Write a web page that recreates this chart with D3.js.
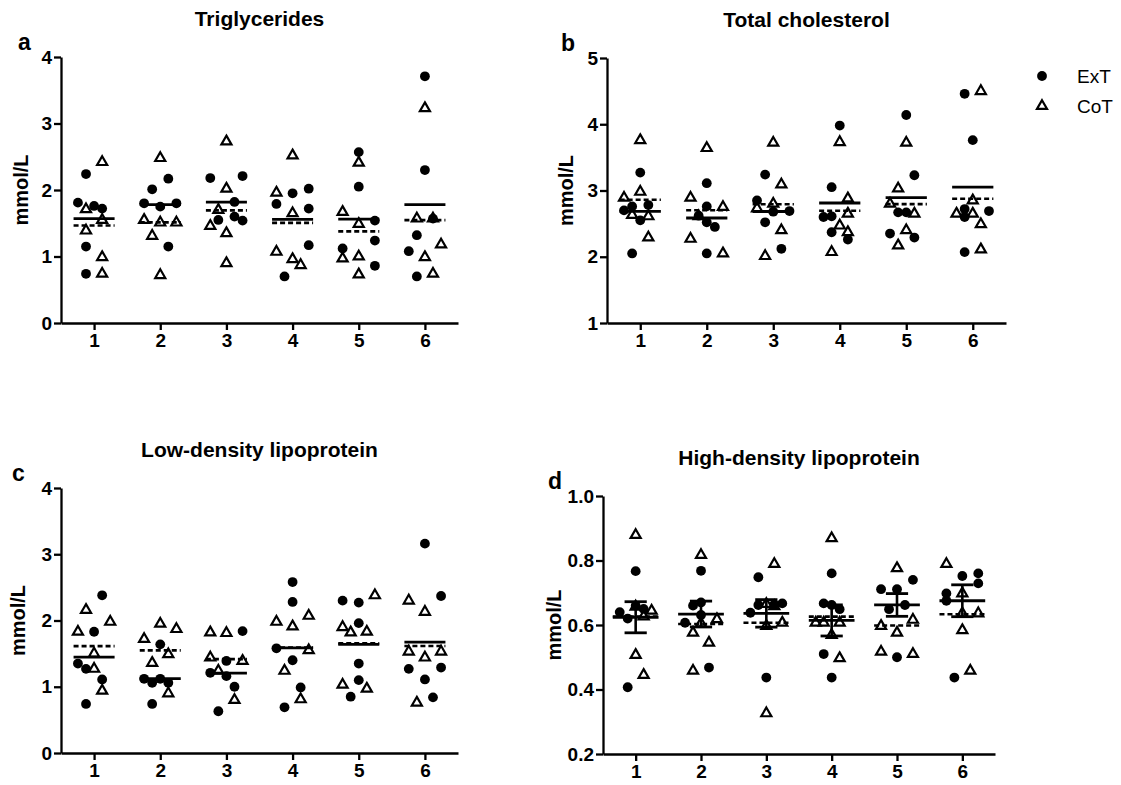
<!DOCTYPE html>
<html><head><meta charset="utf-8">
<script src="https://cdn.jsdelivr.net/npm/d3@7"></script>
<style>
body{margin:0;background:#fff;}
svg{display:block;font-family:"Liberation Sans",Arial,Helvetica,sans-serif;}
</style>
</head><body>
<svg id="chart" width="1121" height="785"></svg>
<script>
// ---------------- DATA ----------------
const timepoints = [1, 2, 3, 4, 5, 6];
const groupNames = ["ExT", "CoT"];
const panelTitles = ["Triglycerides", "Total cholesterol", "Low-density lipoprotein", "High-density lipoprotein"];
const panelLetters = ["a", "b", "c", "d"];
const yUnit = "mmol/L";
const tgTicks = [0, 1, 2, 3, 4];
const tcTicks = [1, 2, 3, 4, 5];
const ldlTicks = [0, 1, 2, 3, 4];
const hdlTicks = [0.2, 0.4, 0.6, 0.8, 1.0];

// Triglycerides (one row per time point), with the scatter column of each point
const tgExT = [
  [2.24, 1.81, 1.76, 1.72, 1.15, 0.74],
  [2.17, 2.01, 1.80, 1.75, 1.80, 1.15],
  [2.18, 2.21, 1.82, 1.55, 1.60, 1.54],
  [1.95, 2.02, 1.79, 1.72, 1.17, 0.70],
  [2.57, 2.05, 1.54, 1.24, 1.12, 0.86],
  [3.71, 2.30, 1.57, 1.32, 1.08, 0.70]];
const tgExTCol = [
  [-1, -2, 0, 1, -1, -1], [1, -1, -2, 0, 2, 1], [-2, 2, 1, -1, 1, 2],
  [0, 2, -2, 2, 2, -1], [0, 0, 2, 2, -2, 2], [0, 0, 1, -1, -2, -1]];
const tgCoT = [
  [2.42, 1.71, 1.55, 1.39, 0.99, 0.74],
  [2.48, 1.55, 1.51, 1.51, 1.31, 0.72],
  [2.73, 2.02, 1.70, 1.46, 1.35, 0.90],
  [2.52, 1.96, 1.65, 1.07, 0.96, 0.87],
  [2.41, 1.67, 1.49, 0.97, 1.00, 0.73],
  [3.23, 1.57, 1.57, 1.18, 0.99, 0.74]];
const tgCoTCol = [
  [1, -1, 1, -1, 1, 1], [0, -2, 0, 2, -1, 0], [0, 0, -1, -2, 0, 0],
  [0, -2, 0, -2, 0, 1], [0, -2, 0, -2, 0, 0], [0, -1, 1, 2, 0, 1]];

// Total cholesterol
const tcExT = [
  [3.27, 2.70, 2.76, 2.78, 2.55, 2.05],
  [3.11, 2.76, 2.62, 2.52, 2.45, 2.05],
  [3.24, 2.85, 2.68, 2.69, 2.52, 2.12],
  [3.98, 3.05, 2.60, 2.61, 2.37, 2.26],
  [4.14, 3.23, 2.67, 2.67, 2.35, 2.29],
  [4.46, 3.76, 2.72, 2.60, 2.69, 2.07]];
const tcExTCol = [
  [0, -2, -1, 1, 0, -1], [0, 0, -1, 0, 1, 0], [-1, -2, 0, 2, -1, 1],
  [0, -1, -2, -1, -1, 1], [0, 1, -1, 0, -2, 1], [-1, 0, -1, -1, 2, -1]];
const tcCoT = [
  [3.76, 2.89, 2.98, 2.63, 2.61, 2.29],
  [3.64, 2.89, 2.75, 2.61, 2.27, 2.05],
  [3.72, 3.09, 2.80, 2.73, 2.40, 2.01],
  [3.73, 2.88, 2.65, 2.47, 2.37, 2.07],
  [3.72, 3.03, 2.80, 2.65, 2.40, 2.17],
  [4.50, 2.85, 2.65, 2.65, 2.49, 2.11]];
const tcCoTCol = [
  [0, -2, 0, -1, 1, 1], [0, -2, 2, -1, -2, 2], [0, 1, 0, -2, 1, -1],
  [0, 1, 1, 0, 1, -1], [0, -1, -2, 1, 0, -1], [1, 0, -2, 0, 1, 1]];

// Low-density lipoprotein
const ldlExT = [
  [2.38, 1.83, 1.35, 1.27, 1.11, 0.74],
  [1.64, 1.12, 1.06, 1.12, 1.06, 0.74],
  [1.84, 1.39, 1.21, 1.16, 1.00, 0.63],
  [2.58, 2.28, 1.58, 1.40, 0.99, 0.69],
  [2.30, 2.27, 1.96, 1.35, 1.10, 0.85],
  [3.16, 2.37, 1.27, 1.29, 1.11, 0.84]];
const ldlExTCol = [
  [1, 0, -2, -1, 1, -1], [0, -2, -1, 0, 1, -1], [2, 0, -2, 0, 1, -1],
  [0, 0, -2, 0, 1, -1], [-2, 0, 0, 0, 0, -1], [0, 2, -2, 2, 0, 1]];
const ldlCoT = [
  [2.16, 1.98, 1.83, 1.50, 1.27, 0.94],
  [1.95, 1.87, 1.72, 1.49, 1.36, 0.90],
  [1.82, 1.81, 1.44, 1.39, 1.24, 0.80],
  [1.98, 2.07, 1.91, 1.55, 1.24, 0.81],
  [2.38, 1.90, 1.82, 1.83, 1.03, 0.97],
  [2.30, 2.13, 1.53, 1.44, 1.53, 0.76]];
const ldlCoTCol = [
  [-1, 2, -2, 0, 0, 1], [0, 2, -2, 1, -1, 1], [-2, 0, -2, 2, -1, 1],
  [-2, 2, 0, 2, -1, 1], [2, -2, -1, 1, -2, 1], [-2, 0, -2, 0, 2, -1]];

// High-density lipoprotein
const hdlExT = [
  [0.767, 0.640, 0.620, 0.660, 0.650, 0.407],
  [0.768, 0.607, 0.631, 0.468, 0.670, 0.660],
  [0.748, 0.638, 0.662, 0.667, 0.437, 0.664],
  [0.760, 0.649, 0.510, 0.437, 0.667, 0.662],
  [0.740, 0.711, 0.711, 0.662, 0.649, 0.500],
  [0.752, 0.760, 0.729, 0.698, 0.675, 0.437]];
const hdlExTCol = [
  [0, -2, -1, 0, 1, -1], [0, -2, 0, 1, 0, -1], [-1, -2, -1, 2, 0, 1],
  [0, 1, -1, 0, -1, 0], [2, -2, 0, 1, -1, 0], [0, 2, 2, -2, -2, -1]];
const hdlCoT = [
  [0.879, 0.657, 0.626, 0.644, 0.507, 0.445],
  [0.817, 0.605, 0.618, 0.576, 0.545, 0.458],
  [0.789, 0.597, 0.607, 0.326, 0.665, 0.658],
  [0.869, 0.569, 0.497, 0.607, 0.607, 0.607],
  [0.776, 0.597, 0.616, 0.576, 0.517, 0.510],
  [0.789, 0.698, 0.636, 0.636, 0.584, 0.458]];
const hdlCoTCol = [
  [0, 0, 1, 2, 0, 1], [0, 0, 2, -1, 1, -1], [1, 0, 2, 0, 0, 1],
  [0, 0, 1, -2, -1, 1], [0, -2, 2, 0, -2, 2], [-2, 0, 0, 2, 0, 1]];

// ---------------- LAYOUT ----------------
const svg = d3.select("#chart");
const FONT_TICK = 19, FONT_TITLE = 21, FONT_LETTER = 23;
const DOT_R = 4.9;

const panels = [
  {title: panelTitles[0], letter: panelLetters[0], ext: tgExT, extCol: tgExTCol, cot: tgCoT, cotCol: tgCoTCol,
   ticks: tgTicks, fmt: d3.format("d"), box: {l: 61, r: 458, t: 57, b: 323}, letterX: 18, labelX: 21, sem: false, half: 0.31},
  {title: panelTitles[1], letter: panelLetters[1], ext: tcExT, extCol: tcExTCol, cot: tcCoT, cotCol: tcCoTCol,
   ticks: tcTicks, fmt: d3.format("d"), box: {l: 607, r: 1006, t: 58, b: 323}, letterX: 561, labelX: 566, sem: false, half: 0.31},
  {title: panelTitles[2], letter: panelLetters[2], ext: ldlExT, extCol: ldlExTCol, cot: ldlCoT, cotCol: ldlCoTCol,
   ticks: ldlTicks, fmt: d3.format("d"), box: {l: 61, r: 458, t: 488, b: 753}, letterX: 12, labelX: 18, sem: false, half: 0.31},
  {title: panelTitles[3], letter: panelLetters[3], ext: hdlExT, extCol: hdlExTCol, cot: hdlCoT, cotCol: hdlCoTCol,
   ticks: hdlTicks, fmt: d3.format(".1f"), box: {l: 603, r: 995, t: 496, b: 754}, letterX: 548, labelX: 554, sem: true, half: 0.35}
];

const triPath = d3.symbol().type(d3.symbolTriangle).size(44)();

function styleAxis(g) {
  g.selectAll("path, line").attr("stroke", "#000").attr("stroke-width", 2.3);
  g.selectAll("text").attr("font-size", FONT_TICK).attr("font-weight", "bold").attr("fill", "#000")
    .attr("font-family", '"Liberation Sans",Arial,sans-serif');
}

panels.forEach(p => {
  const g = svg.append("g");
  const x = d3.scaleLinear().domain([0.5, 6.5]).range([p.box.l, p.box.r]);
  const y = d3.scaleLinear().domain(d3.extent(p.ticks)).range([p.box.b, p.box.t]);
  const step = x(2) - x(1);
  const col = step * 0.122;

  // axes
  g.append("g").attr("transform", `translate(0,${p.box.b})`)
    .call(d3.axisBottom(x).tickValues(timepoints).tickFormat(d3.format("d")).tickSize(7).tickSizeOuter(0).tickPadding(4))
    .call(styleAxis);
  g.append("g").attr("transform", `translate(${p.box.l},0)`)
    .call(d3.axisLeft(y).tickValues(p.ticks).tickFormat(p.fmt).tickSize(7).tickSizeOuter(0).tickPadding(2))
    .call(styleAxis);

  // title, panel letter, axis label
  g.append("text").attr("x", (p.box.l + p.box.r) / 2).attr("y", p.box.t - 31)
    .attr("text-anchor", "middle").attr("font-size", FONT_TITLE).attr("font-weight", "bold").text(p.title);
  g.append("text").attr("x", p.letterX).attr("y", p.box.t - 7)
    .attr("font-size", FONT_LETTER).attr("font-weight", "bold").text(p.letter);
  g.append("text").attr("transform", `translate(${p.labelX},${(p.box.t + p.box.b) / 2}) rotate(-90)`)
    .attr("text-anchor", "middle").attr("dy", "0.36em").attr("font-size", FONT_TICK + 1).attr("font-weight", "bold").text(yUnit);

  // points
  timepoints.forEach((t, i) => {
    const cx = x(t);
    g.selectAll(null).data(p.ext[i].map((v, j) => ({v, c: p.extCol[i][j]}))).join("circle")
      .attr("cx", d => cx + d.c * col).attr("cy", d => y(d.v)).attr("r", DOT_R).attr("fill", "#000");
    g.selectAll(null).data(p.cot[i].map((v, j) => ({v, c: p.cotCol[i][j]}))).join("path")
      .attr("d", triPath)
      .attr("transform", d => `translate(${cx + d.c * col},${y(d.v)})`)
      .attr("fill", "none").attr("stroke", "#000").attr("stroke-width", 2.2).attr("stroke-linejoin", "miter");

    // means
    const mE = d3.mean(p.ext[i]);
    const mC = d3.mean(p.cot[i]);
    g.append("line").attr("x1", cx - p.half * step).attr("x2", cx + p.half * step)
      .attr("y1", y(mC)).attr("y2", y(mC)).attr("stroke", "#000").attr("stroke-width", 2.6)
      .attr("stroke-dasharray", "5,3");
    g.append("line").attr("x1", cx - p.half * step).attr("x2", cx + p.half * step)
      .attr("y1", y(mE)).attr("y2", y(mE)).attr("stroke", "#000").attr("stroke-width", 2.8);
    if (p.sem) {
      const se = d3.deviation(p.ext[i]) / Math.sqrt(p.ext[i].length);
      const cap = 0.17 * step;
      g.append("line").attr("x1", cx).attr("x2", cx).attr("y1", y(mE - se)).attr("y2", y(mE + se))
        .attr("stroke", "#000").attr("stroke-width", 2.6);
      [mE - se, mE + se].forEach(v => {
        g.append("line").attr("x1", cx - cap).attr("x2", cx + cap).attr("y1", y(v)).attr("y2", y(v))
          .attr("stroke", "#000").attr("stroke-width", 2.8);
      });
    }
  });
});

// legend
const legend = svg.append("g").attr("transform", "translate(1042,76)");
groupNames.forEach((name, i) => {
  const row = legend.append("g").attr("transform", `translate(0,${i * 30})`);
  if (i === 0) row.append("circle").attr("r", DOT_R).attr("fill", "#000");
  else row.append("path").attr("d", triPath).attr("fill", "none").attr("stroke", "#000").attr("stroke-width", 2.2);
  row.append("text").attr("x", 35).attr("dy", "0.36em").attr("font-size", 19).text(name);
});
</script>
</body></html>
